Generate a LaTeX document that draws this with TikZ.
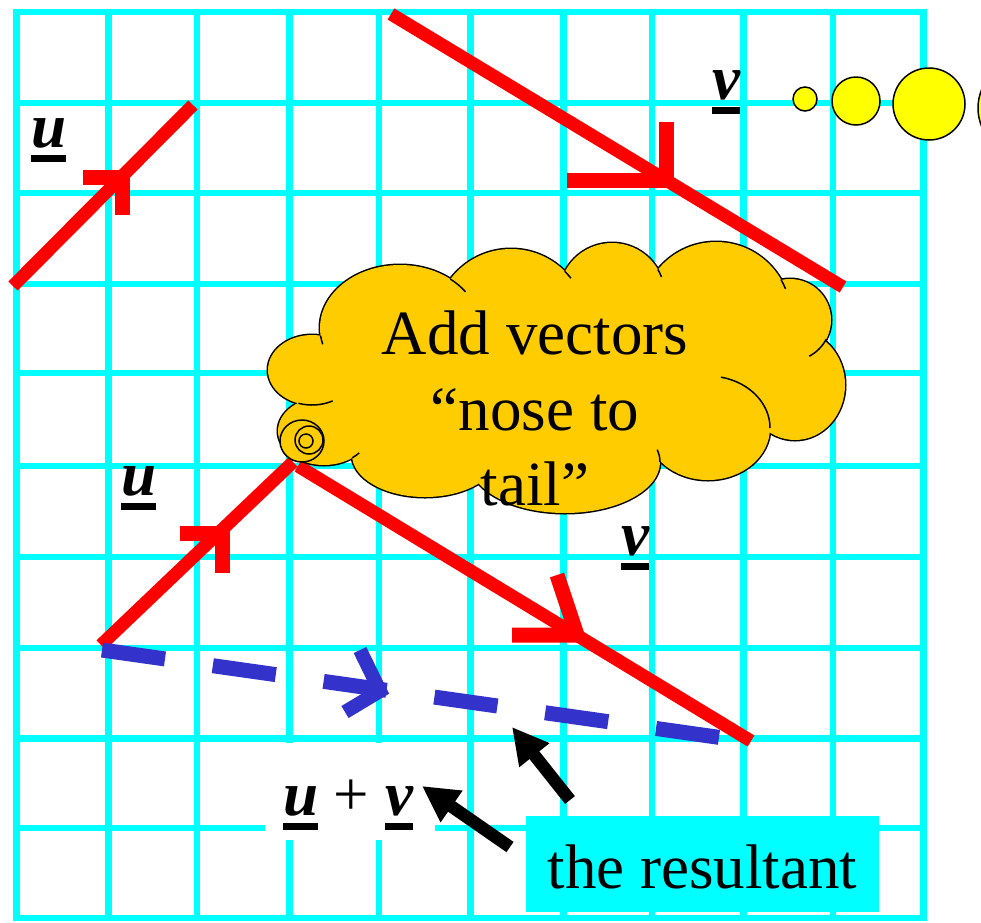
\documentclass[tikz,border=0pt]{standalone}
\usepackage{fontspec}
\setmainfont{Liberation Serif}
\usetikzlibrary{arrows.meta}
\definecolor{gridcyan}{RGB}{0,255,255}
\definecolor{vecred}{RGB}{255,0,0}
\definecolor{resblue}{RGB}{51,51,204}
\definecolor{cloudgold}{RGB}{255,204,0}
\definecolor{bubble}{RGB}{255,255,0}
\newcommand\ulbi[1]{\vtop{\hbox{\bfseries\itshape #1}\kern7.5pt\hrule height 6.5pt}}
\newcommand\cloudlobes{400/328/80/63, 511/325/76/76, 612/296/53/53, 716/317/75/75,
  790/320/41/41, 795/385/50/55, 708/428/62/52, 565/462/95/51, 425/455/73/42,
  324/431/46/34, 312/370/44/35}
\begin{document}
\begin{tikzpicture}[x=1pt,y=-1pt,
  gridline/.style={gridcyan, line width=6.5pt, line cap=rect},
  vec/.style={vecred, line width=13pt},
  vechead/.style={vecred, line width=15pt, line join=miter},
  res/.style={resblue, line width=15pt, dash pattern=on 63.6pt off 48.3pt},
  reshead/.style={resblue, line width=14pt, line join=miter},
  pointer/.style={black, line width=12.5pt, -{Triangle[length=36pt,width=36pt]}},
  lbl/.style={inner sep=0pt, font=\fontsize{63}{76}\selectfont},
  cloudline/.style={black, line width=1.5pt},
  bubbles/.style={fill=bubble, draw=black, line width=1.5pt}]
\useasboundingbox (0,0) rectangle (981,922);
\clip (0,0) rectangle (981,922);
% grid
\foreach \gx in {16.3,108.3,197.2,289.5,379.2,470.3,563.3,652.2,743.7,832.9,923.7}
  \draw[gridline] (\gx,12) -- (\gx,918);
\foreach \gy in {12,103,193,284,373,466,557,648,738.5,828,918}
  \draw[gridline] (16.3,\gy) -- (923.7,\gy);
% white patch behind u + v
\node[fill=white, inner sep=0pt, minimum width=170pt, minimum height=97pt] (uvbg) at (350,791.5) {};
% top u
\coordinate (u1s) at (13,286);
\coordinate (u1e) at (193,105);
\draw[vec] (u1s) -- (u1e);
\draw[vechead] (83,177) -- (122,177) -- (122,215);
% lower u and v
\coordinate (u2s) at (101,645);
\coordinate (u2e) at (293,462);
\coordinate (v2s) at (298,466);
\coordinate (v2e) at (751,741);
\draw[vec] (u2s) -- (u2e);
\draw[vechead] (180,533) -- (222,533) -- (222,573);
\draw[vec] (v2s) -- (v2e);
\draw[vechead] (512,635) -- (577,635) -- (557,575);
% resultant
\coordinate (rs) at (102,650);
\coordinate (re) at (720,737.5);
\draw[res] (rs) -- (re);
\draw[reshead] (360,650) -- (380,691) -- (345,712);
% cloud: outlines of all lobes, then fill over them
\foreach \cx/\cy/\rx/\ry in \cloudlobes
  \draw[black, line width=3pt] (\cx,\cy) ellipse [x radius=\rx, y radius=\ry];
\foreach \cx/\cy/\rx/\ry in \cloudlobes
  \fill[cloudgold] (\cx,\cy) ellipse [x radius=\rx, y radius=\ry];
\fill[cloudgold] (330,345) -- (457,285) -- (566,280) -- (656,276) -- (775,292) -- (815,342)
  -- (762,425) -- (655,462) -- (482,480) -- (355,452) -- (305,405) -- cycle;
% inner stubs of the cloud
\draw[cloudline] (312,370) ++(108:44 and 35) arc [start angle=108, end angle=62, x radius=44, y radius=35];
\draw[cloudline] (708,428) ++(-78:62 and 52) arc [start angle=-78, end angle=0, x radius=62, y radius=52];
\draw[cloudline] (790,320) ++(28:41 and 41) arc [start angle=28, end angle=62, x radius=41, y radius=41];
\draw[cloudline] (400,328) ++(-51:80 and 63) arc [start angle=-51, end angle=-35, x radius=80, y radius=63];
\draw[cloudline] (400,328) ++(173:80 and 63) arc [start angle=173, end angle=165, x radius=80, y radius=63];
\draw[cloudline] (511,325) ++(-45:76 and 76) arc [start angle=-45, end angle=-38, x radius=76, y radius=76];
\draw[cloudline] (612,296) ++(-30:53 and 53) arc [start angle=-30, end angle=-21, x radius=53, y radius=53];
\draw[cloudline] (716,317) ++(-30:75 and 75) arc [start angle=-30, end angle=-22, x radius=75, y radius=75];
\draw[cloudline] (565,462) ++(0:95 and 51) arc [start angle=0, end angle=-14, x radius=95, y radius=51];
\draw[cloudline] (324,431) ++(52:46 and 34) arc [start angle=52, end angle=40, x radius=46, y radius=34];
% spiral
\draw[cloudline, fill=cloudgold] (302,441) ellipse [x radius=22, y radius=21];
\draw[cloudline] (309,440) circle [radius=14pt];
\draw[cloudline] (306,441) circle [radius=7pt];
% top v (over the cloud)
\coordinate (v1s) at (391,14);
\coordinate (v1e) at (843,287);
\draw[vec] (v1s) -- (v1e);
\draw[vechead] (567,180) -- (666,180) -- (666,122);
% thought bubbles
\draw[bubbles] (805,99) circle [radius=12pt];
\draw[bubbles] (856,101) circle [radius=24pt];
\draw[bubbles] (929,104) circle [radius=36pt];
\draw[bubbles] (1026,108) circle [radius=48pt];
% cloud text
\node[lbl, anchor=base] (t1) at (535,354) {Add vectors};
\node[lbl, anchor=base] (t2) at (535,430) {“nose to};
\node[lbl, anchor=base] (t3) at (535,505) {tail”};
% vector labels
\node[lbl, anchor=base west] (ulab1) at (31,147) {\ulbi{u}};
\node[lbl, anchor=base west] (vlab1) at (712,99) {\ulbi{v}};
\node[lbl, anchor=base west] (ulab2) at (121,495) {\ulbi{u}};
\node[lbl, anchor=base west] (vlab2) at (621,555) {\ulbi{v}};
\node[lbl, anchor=base west] (uvlab) at (283,815) {\ulbi{u} + \ulbi{v}};
% resultant box
\node[fill=gridcyan, minimum width=353pt, minimum height=96pt, inner sep=0pt,
      text height=48pt, text depth=0pt, font=\fontsize{63}{76}\selectfont] (resbox) at (702.5,864) {the resultant};
% pointers
\coordinate (p1s) at (570,800);
\coordinate (p1e) at (512,727);
\coordinate (p2s) at (510,847);
\coordinate (p2e) at (422,786);
\draw[pointer] (p1s) -- (p1e);
\draw[pointer] (p2s) -- (p2e);
\end{tikzpicture}
\end{document}
